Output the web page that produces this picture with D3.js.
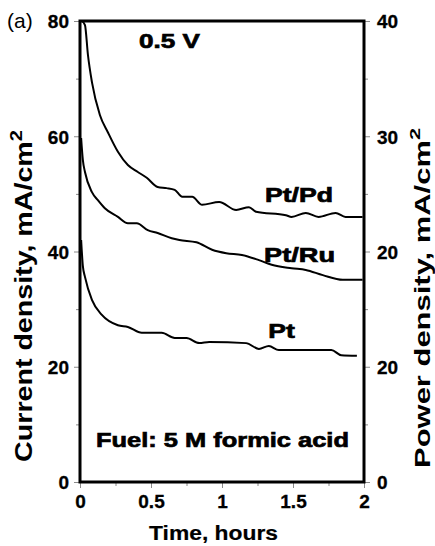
<!DOCTYPE html>
<html>
<head>
<meta charset="utf-8">
<script src="https://cdn.jsdelivr.net/npm/d3@7"></script>
<style>
	body { margin: 0; background: #fff; }
	text { font-family: "Liberation Sans", Arial, sans-serif; fill: #000; }
</style>
</head>
<body>
<svg id="chart" width="435" height="546"></svg>
<script>
// time in hours, current density in mA/cm2
var ptPdTime = [0.014, 0.035, 0.056, 0.084, 0.14, 0.196, 0.267, 0.337, 0.407, 0.47, 0.547, 0.61, 0.667, 0.72, 0.79, 0.86, 0.98, 1.10, 1.19, 1.24, 1.45, 1.49, 1.59, 1.68, 1.80, 1.87, 1.99];
var ptPdCurrent = [80, 79.3, 74.1, 69.4, 63.7, 60.7, 57.3, 55.0, 53.8, 52.8, 51.2, 51.0, 50.7, 49.5, 49.5, 48.1, 48.6, 47.2, 47.7, 46.9, 46.3, 46.0, 46.7, 46.0, 46.7, 46.0, 46.0];

var ptRuTime = [0.008, 0.02, 0.035, 0.084, 0.126, 0.175, 0.267, 0.337, 0.40, 0.477, 0.547, 0.646, 0.70, 0.82, 0.93, 1.03, 1.14, 1.26, 1.35, 1.49, 1.59, 1.71, 1.85, 1.99];
var ptRuCurrent = [59.7, 55.9, 53.8, 50.3, 48.9, 47.5, 46.0, 44.9, 44.9, 43.7, 43.2, 42.3, 42.0, 41.6, 40.3, 39.7, 39.4, 38.5, 37.7, 37.1, 36.8, 35.9, 35.1, 35.1];

var ptTime = [0.008, 0.02, 0.035, 0.084, 0.154, 0.267, 0.337, 0.435, 0.575, 0.667, 0.75, 0.84, 0.91, 1.17, 1.26, 1.33, 1.40, 1.71, 1.77, 1.84, 1.95];
var ptCurrent = [42.0, 37.5, 35.6, 31.6, 29.0, 27.2, 26.9, 25.9, 25.9, 25.0, 25.0, 24.1, 24.3, 24.1, 23.1, 23.6, 22.9, 22.9, 22.9, 22.0, 21.9];

var xTicks = [0, 0.5, 1, 1.5, 2];
var xTickLabels = ["0", "0.5", "1", "1.5", "2"];
var xMinor = [0.25, 0.75, 1.25, 1.75];
var yTicks = [0, 20, 40, 60, 80];
var yMinor = [10, 30, 50, 70];
var y2Ticks = [0, 10, 20, 30, 40];
var y2TickLabels = ["0", "20", "20", "30", "40"];
var y2Minor = [5, 15, 25, 35];

var series = [
	{ name: "Pt/Pd", t: ptPdTime, v: ptPdCurrent },
	{ name: "Pt/Ru", t: ptRuTime, v: ptRuCurrent },
	{ name: "Pt", t: ptTime, v: ptCurrent }
];

var svg = d3.select("#chart"),
	margin = { top: 21, right: 71, bottom: 64, left: 80 },
	width = +svg.attr("width") - margin.left - margin.right,
	height = +svg.attr("height") - margin.top - margin.bottom;

var x = d3.scaleLinear().domain([0, 2]).range([0, width]),
	y = d3.scaleLinear().domain([0, 80]).range([height, 0]),
	y2 = d3.scaleLinear().domain([0, 40]).range([height, 0]);

var g = svg.append("g")
	.attr("transform", "translate(" + margin.left + "," + margin.top + ")");

function styleAxis(sel, size) {
	sel.select(".domain").remove();
	sel.selectAll(".tick line").attr("stroke", "#8a8a8a").attr("stroke-width", 1);
	sel.selectAll(".tick text")
		.style("font-size", size + "px")
		.style("font-weight", "bold")
		.attr("stroke", "#000")
		.attr("stroke-width", 0.3);
}

// minor ticks
g.append("g").call(d3.axisLeft(y).tickValues(yMinor).tickSize(4).tickFormat(""))
	.call(styleAxis, 19);
g.append("g").attr("transform", "translate(" + width + ",0)")
	.call(d3.axisRight(y2).tickValues(y2Minor).tickSize(4).tickFormat(""))
	.call(styleAxis, 19);
g.append("g").attr("transform", "translate(0," + height + ")")
	.call(d3.axisBottom(x).tickValues(xMinor).tickSize(4).tickFormat(""))
	.call(styleAxis, 19);

// major ticks
g.append("g")
	.call(d3.axisLeft(y).tickValues(yTicks).tickSize(6).tickPadding(5).tickFormat(d3.format("d")))
	.call(styleAxis, 19)
	.selectAll(".tick text").attr("dy", "0.36em");

g.append("g").attr("transform", "translate(" + width + ",0)")
	.call(d3.axisRight(y2).tickValues(y2Ticks).tickSize(6).tickPadding(7)
		.tickFormat(function(d, i) { return y2TickLabels[i]; }))
	.call(styleAxis, 19)
	.selectAll(".tick text").attr("dy", "0.36em");

g.append("g").attr("transform", "translate(0," + height + ")")
	.call(d3.axisBottom(x).tickValues(xTicks).tickSize(6).tickPadding(7)
		.tickFormat(function(d, i) { return xTickLabels[i]; }))
	.call(styleAxis, 19);

// curves
var line = d3.line()
	.x(function(d) { return x(d[0]); })
	.y(function(d) { return y(d[1]); })
	.curve(d3.curveMonotoneX);

g.selectAll(".curve")
	.data(series)
	.enter().append("path")
	.attr("class", "curve")
	.attr("fill", "none")
	.attr("stroke", "#000")
	.attr("stroke-width", 2)
	.attr("stroke-linejoin", "round")
	.attr("d", function(s) { return line(s.t.map(function(t, i) { return [t, s.v[i]]; })); });

// frame
g.append("rect")
	.attr("width", width)
	.attr("height", height)
	.attr("fill", "none")
	.attr("stroke", "#000")
	.attr("stroke-width", 3);

// text fitted to a given length (the original font is wider than Arial)
function fitText(parent, str, cx, cy, rot, len, size, heavy, sup) {
	var t = parent.append("text")
		.attr("text-anchor", "middle")
		.style("font-size", size + "px")
		.style("font-weight", "bold")
		.attr("stroke", "#000")
		.attr("stroke-width", heavy)
		.text(str);
	if (sup) {
		t.append("tspan").attr("dy", -size * 0.45).style("font-size", (size * 0.7) + "px").text(sup);
	}
	var w = t.node().getBBox().width;
	t.attr("transform", "translate(" + cx + "," + cy + ") rotate(" + rot + ") scale(" + (len / w) + ",1)");
	return t;
}

fitText(svg, "0.5 V", 169.5, 48, 0, 61, 21, 0.7);
fitText(svg, "Pt/Pd", 299, 202, 0, 68, 20, 0.7);
fitText(svg, "Pt/Ru", 299.5, 262, 0, 71, 20, 0.7);
fitText(svg, "Pt", 281.5, 338, 0, 27, 20, 0.7);
fitText(svg, "Fuel: 5 M formic acid", 222.5, 447, 0, 253, 21, 0.7);
fitText(svg, "Time, hours", 213.5, 540, 0, 129, 21, 0.2);
fitText(svg, "Current density, mA/cm", 32, 296, -90, 332, 23, 0, "2");
fitText(svg, "Power density, mA/cm", 430, 298, -90, 340, 22, 0, "2");

svg.append("text")
	.attr("x", 7)
	.attr("y", 28)
	.style("font-size", "21px")
	.text("(a)");
</script>
</body>
</html>
